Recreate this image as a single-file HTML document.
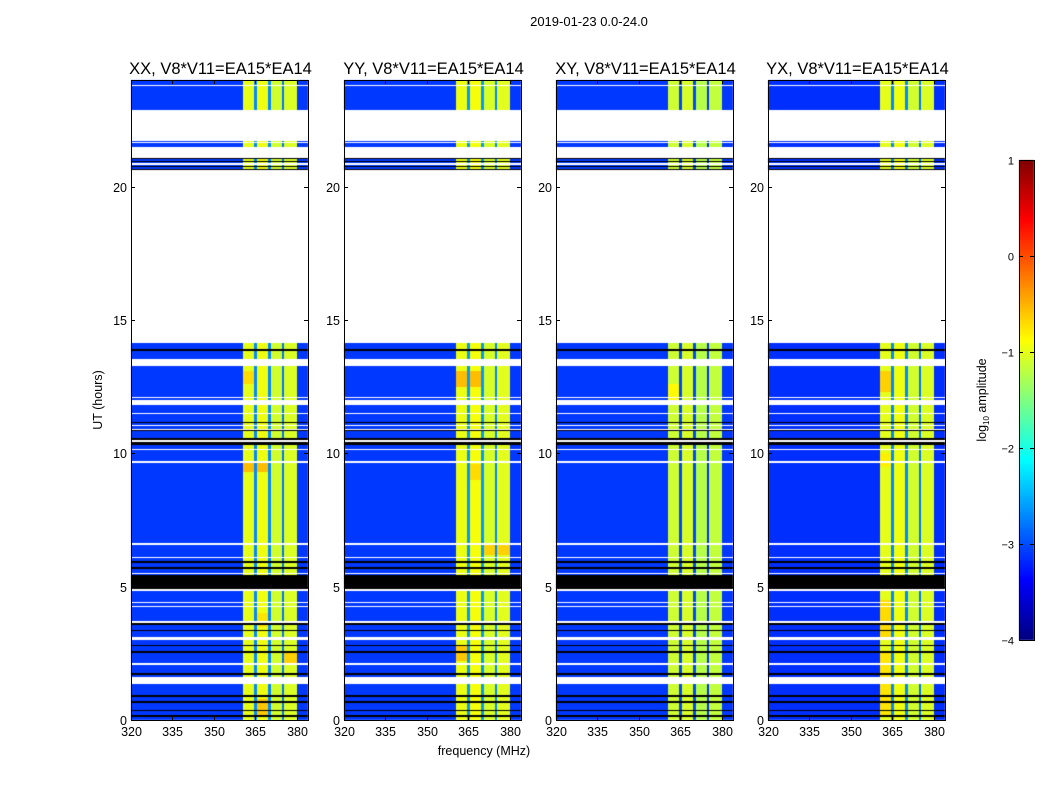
<!DOCTYPE html>
<html><head><meta charset="utf-8"><style>
body{margin:0;background:#fff;}
#wrap{position:relative;width:1050px;height:800px;overflow:hidden;font-family:"Liberation Sans","DejaVu Sans",sans-serif;}
canvas,svg{position:absolute;left:0;top:0;}
</style></head><body>
<div id="wrap">
<canvas id="cv" width="1050" height="800"></canvas>
<svg id="sv" width="1050" height="800"></svg>
</div>
<script>
const panelTitles=['XX, V8*V11=EA15*EA14','YY, V8*V11=EA15*EA14','XY, V8*V11=EA15*EA14','YX, V8*V11=EA15*EA14'];
const xTicks=[320,335,350,365,380];
const yTicks=[0,5,10,15,20];
const cbTicks=[1,0,-1,-2,-3,-4];
const bgLevel=[-3.1,-3.1,-3.1,-3.15];
const bandStarts=[360.5,364.5,365.5,369.5,370.5,374.5,375.5,380];
const bandEnds  =[364.5,365.5,369.5,370.5,374.5,375.5,380,384];
const bandVals  =[-1.0,-2.7,-0.95,-2.7,-1.1,-2.8,-1.05,null];
const bandScale=[1.0,0.97,1.12,1.0];
// flagged white blocks [hStart,hEnd]
const whiteBlocks=[[21.71,22.875],[21.075,21.49],[14.14,20.625],[13.275,13.54],[11.81,12.0],[3.0,3.11],[1.35,1.61],[10.425,10.5]];
const whiteLines=[23.81,21.66,20.85,12.11,11.51,11.06,10.875,10.16,9.675,6.6,6.11,5.51,4.875,4.39,4.24,3.675,2.1,4.9];
const blackBlocks=[[4.91,5.44],[10.5,10.575],[10.31,10.425]];
const blackLines=[21.04,20.94,20.77,20.64,13.875,11.14,10.84,5.925,5.7,3.6,3.34,2.81,2.55,1.725,0.9,0.675,0.34,0.15];
// hotspots: panel, hStart, hEnd, fStart, fEnd, value
const hotPanel=[0,0,0,0,0,1,1,1,1,3,3,3,3,2];
const hotH0=[9.3,12.6,3.5,0.2,2.1,12.5,6.2,2.2,9.0,3.0,0.2,12.3,9.5,12.0];
const hotH1=[9.7,13.1,4.0,0.8,2.6,13.1,6.6,2.8,9.6,4.5,2.5,13.1,10.0,12.6];
const hotF0=[360.5,360.5,365.5,365.5,375.5,360.5,370.5,360.5,365.5,360.5,360.5,360.5,360.5,360.5];
const hotF1=[369.5,364.5,369.5,369.5,380,369.5,380,364.5,369.5,364.5,364.5,364.5,364.5,364.5];
const hotV=[-0.55,-0.7,-0.75,-0.6,-0.65,-0.55,-0.65,-0.6,-0.7,-0.7,-0.75,-0.65,-0.8,-0.85];

const panelX=[131,344,556,768],PW=177,PT=80,PH=640,FMIN=320,FMAX=384,HMAX=24;
function xs(p,f){return panelX[p]+(f-FMIN)/(FMAX-FMIN)*PW;}
function ys(h){return PT+PH-h/HMAX*PH;}
function cl(v){return Math.max(0,Math.min(1,v));}
function jet(v){const t=cl((v+4)/5);return [255*cl(1.5-Math.abs(4*t-3)),255*cl(1.5-Math.abs(4*t-2)),255*cl(1.5-Math.abs(4*t-1))];}

const cv=document.getElementById('cv'),ctx=cv.getContext('2d');
const img=ctx.createImageData(1050,800);
for(let i=0;i<img.data.length;i+=4){img.data[i]=255;img.data[i+1]=255;img.data[i+2]=255;img.data[i+3]=255;}
function put(x,y,c){const i=(y*1050+x)*4;img.data[i]=c[0];img.data[i+1]=c[1];img.data[i+2]=c[2];}
for(let p=0;p<4;p++){
 for(let py=0;py<PH;py++){
  const h=HMAX-(py+0.5)/PH*HMAX;
  let state='d';
  for(const b of whiteBlocks) if(h>=b[0]&&h<=b[1]) state='w';
  for(const l of whiteLines) if(Math.abs(h-l)<0.02) state='w';
  for(const b of blackBlocks) if(h>=b[0]&&h<=b[1]) state='k';
  for(const l of blackLines) if(Math.abs(h-l)<0.02) state='k';
  for(let px=0;px<PW;px++){
   let c;
   if(state==='w') c=[255,255,255];
   else if(state==='k') c=[0,0,0];
   else{
    const f=FMIN+(px+0.5)/PW*(FMAX-FMIN);
    let v=bgLevel[p];
    for(let k=0;k<bandStarts.length;k++) if(f>=bandStarts[k]&&f<bandEnds[k]&&bandVals[k]!==null) v=bandVals[k]*bandScale[p];
    for(let k=0;k<hotV.length;k++) if(hotPanel[k]===p&&h>=hotH0[k]&&h<=hotH1[k]&&f>=hotF0[k]&&f<hotF1[k]&&v>-2) v=hotV[k];
    c=jet(v);
   }
   put(panelX[p]+px,PT+py,c);
  }
 }
}
// colorbar
const CBX=1019,CBW=15,CBT=160,CBH=480;
for(let py=0;py<CBH;py++){const v=1-(py+0.5)/CBH*5;const c=jet(v);for(let px=0;px<CBW;px++)put(CBX+px,CBT+py,c);}
ctx.putImageData(img,0,0);

const sv=document.getElementById('sv');const NS='http://www.w3.org/2000/svg';
function mk(tag,attrs,txt){const e=document.createElementNS(NS,tag);for(const k in attrs)e.setAttribute(k,attrs[k]);if(txt!==undefined)e.textContent=txt;sv.appendChild(e);return e;}
let t=mk('text',{x:589,y:26,'font-size':13,'text-anchor':'middle'},'2019-01-23 0.0-24.0');


for(let p=0;p<4;p++){
 const x0=panelX[p];
 let r=mk('rect',{x:x0+0.5,y:PT+0.5,width:PW,height:PH,fill:'none',stroke:'#000','stroke-width':1});
 
 
 let tt=mk('text',{x:x0+PW/2+1,y:74,'font-size':16.5,'text-anchor':'middle'},panelTitles[p]);
 
 
 for(const f of xTicks){
  const x=Math.round(xs(p,f))+0.5;
  mk('line',{x1:x,x2:x,y1:PT+PH,y2:PT+PH-4,stroke:'#000'});
  mk('line',{x1:x,x2:x,y1:PT,y2:PT+4,stroke:'#000'});
  let l=mk('text',{x:x,y:736,'font-size':12.5,'text-anchor':'middle'},String(f));
  
  
 }
 for(const h of yTicks){
  const y=Math.round(ys(h))+0.5;
  mk('line',{x1:x0,x2:x0+4,y1:y,y2:y,stroke:'#000'});
  mk('line',{x1:x0+PW,x2:x0+PW-4,y1:y,y2:y,stroke:'#000'});
  let l=mk('text',{x:x0-4,y:y+4.5,'font-size':12.5,'text-anchor':'end'},String(h));
  
  
 }
}
t=mk('text',{x:102,y:400,'font-size':12.5,'text-anchor':'middle',transform:'rotate(-90 102 400)'},'UT (hours)');


t=mk('text',{x:484,y:755,'font-size':12.5,'text-anchor':'middle'},'frequency (MHz)');


let cb=mk('rect',{x:CBX+0.5,y:CBT+0.5,width:CBW,height:CBH,fill:'none',stroke:'#000'});


for(const v of cbTicks){
 const y=Math.round(CBT+(1-v)/5*CBH)+0.5;
 mk('line',{x1:CBX,x2:CBX+4,y1:y,y2:y,stroke:'#000'});
 mk('line',{x1:CBX+CBW,x2:CBX+CBW-4,y1:y,y2:y,stroke:'#000'});
 let l=mk('text',{x:CBX-5,y:y+4,'font-size':11,'text-anchor':'end'},v<0?'\u2212'+Math.abs(v):String(v));
 
 
}
t=mk('text',{x:986,y:400,'font-size':12.5,'text-anchor':'middle',transform:'rotate(-90 986 400)'});


const s1=document.createElementNS(NS,'tspan');s1.textContent='log';t.appendChild(s1);
const s2=document.createElementNS(NS,'tspan');s2.setAttribute('font-size','8');s2.setAttribute('dy','3');s2.textContent='10';t.appendChild(s2);
const s3=document.createElementNS(NS,'tspan');s3.setAttribute('dy','-3');s3.textContent=' amplitude';t.appendChild(s3);
</script>
</body></html>
